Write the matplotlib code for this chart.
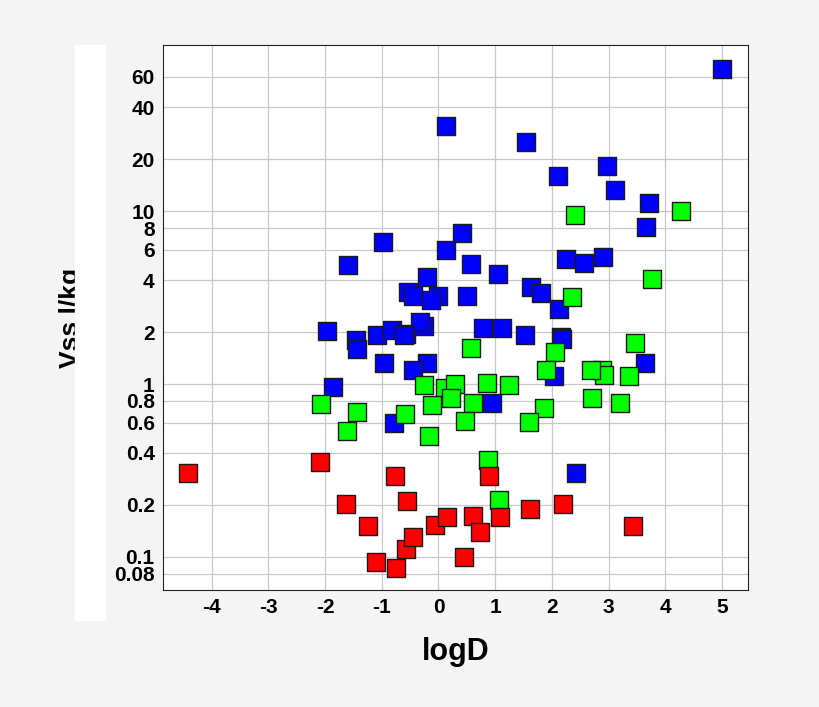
import matplotlib.pyplot as plt
import numpy as np
from matplotlib.patches import Rectangle

plt.rcParams['font.family'] = ['Liberation Sans', 'DejaVu Sans']
plt.rcParams['axes.unicode_minus'] = False

# pixel readings converted to data units
def px2x(p):
    return (np.array(p) - 437) / 56.4

def py2y(p):
    return 10 ** ((557 - np.array(p)) / 172.8 - 1)

blue_px = [719, 444, 524, 605, 556, 613, 646, 643, 382, 460, 444, 347, 469, 564, 582, 601, 496, 426, 642,
           529, 539, 407, 412, 437, 430, 465, 557, 326, 355, 356, 376, 391, 405, 423, 419, 403, 481, 500,
           523, 559, 560, 383, 426, 412, 332, 490, 393, 552, 574]
blue_py = [69, 126, 142, 166, 176, 190, 203, 227, 242, 233, 250, 265, 264, 259, 263, 257, 274, 277, 363,
           287, 293, 292, 296, 296, 300, 296, 309, 331, 340, 349, 335, 330, 334, 326, 322, 335, 328, 328,
           335, 337, 339, 363, 363, 370, 387, 403, 423, 376, 473]
green_px = [678, 573, 649, 570, 633, 469, 553, 600, 602, 589, 544, 627, 423, 443, 453, 485, 507, 449, 431,
            471, 590, 618, 320, 356, 404, 542, 346, 428, 463, 527, 486, 497]
green_py = [211, 215, 279, 297, 343, 348, 352, 370, 375, 370, 370, 376, 385, 388, 384, 383, 385, 398, 405,
            403, 398, 403, 404, 412, 414, 408, 431, 436, 421, 422, 460, 500]
red_px = [188, 319, 394, 487, 345, 406, 561, 367, 471, 498, 528, 434, 445, 375, 395, 405, 412, 478, 462, 631]
red_py = [473, 462, 476, 476, 504, 501, 504, 526, 516, 517, 509, 525, 517, 562, 568, 549, 537, 532, 557, 526]

y_ticks = [0.08, 0.1, 0.2, 0.4, 0.6, 0.8, 1, 2, 4, 6, 8, 10, 20, 40, 60]
y_labels = ['0.08', '0.1', '0.2', '0.4', '0.6', '0.8', '1', '2', '4', '6', '8', '10', '20', '40', '60']
x_ticks = [-4, -3, -2, -1, 0, 1, 2, 3, 4, 5]

fig = plt.figure(figsize=(8.2, 7.07), dpi=100, facecolor='#f4f4f4')
fig.patches.append(Rectangle((75 / 820, 1 - 620 / 707), 30 / 820, 575 / 707,
                             transform=fig.transFigure, color='white', zorder=0))
ax = fig.add_axes([163 / 820, 117 / 707, 585 / 820, 545 / 707])
ax.set_facecolor('white')
ax.set_yscale('log')
ax.set_xlim(-4.86, 5.46)
ax.set_ylim(0.0644, 91.9)
ax.set_yticks(y_ticks)
ax.set_yticklabels(y_labels)
ax.minorticks_off()
ax.set_xticks(x_ticks)
ax.grid(True, color='#c8c8c8', lw=0.9, zorder=0)
ax.tick_params(labelsize=15, length=0, pad=6)
for lab in ax.get_xticklabels() + ax.get_yticklabels():
    lab.set_fontweight('bold')
for s in ax.spines.values():
    s.set_linewidth(0.8)
    s.set_color('#222222')

for xs, ys, c in [(blue_px, blue_py, '#0000ff'), (green_px, green_py, '#00ff00'), (red_px, red_py, '#ff0000')]:
    ax.scatter(px2x(xs), py2y(ys), marker='s', s=150, c=c, edgecolors='#1a1a1a', linewidths=1.0, zorder=3)

ax.set_xlabel('logD', fontsize=22, fontweight='bold', labelpad=14)
ax.set_ylabel('Vss l/kg', fontsize=19, fontweight='bold', labelpad=22)
fig.savefig('out.png', dpi=100, facecolor=fig.get_facecolor())
